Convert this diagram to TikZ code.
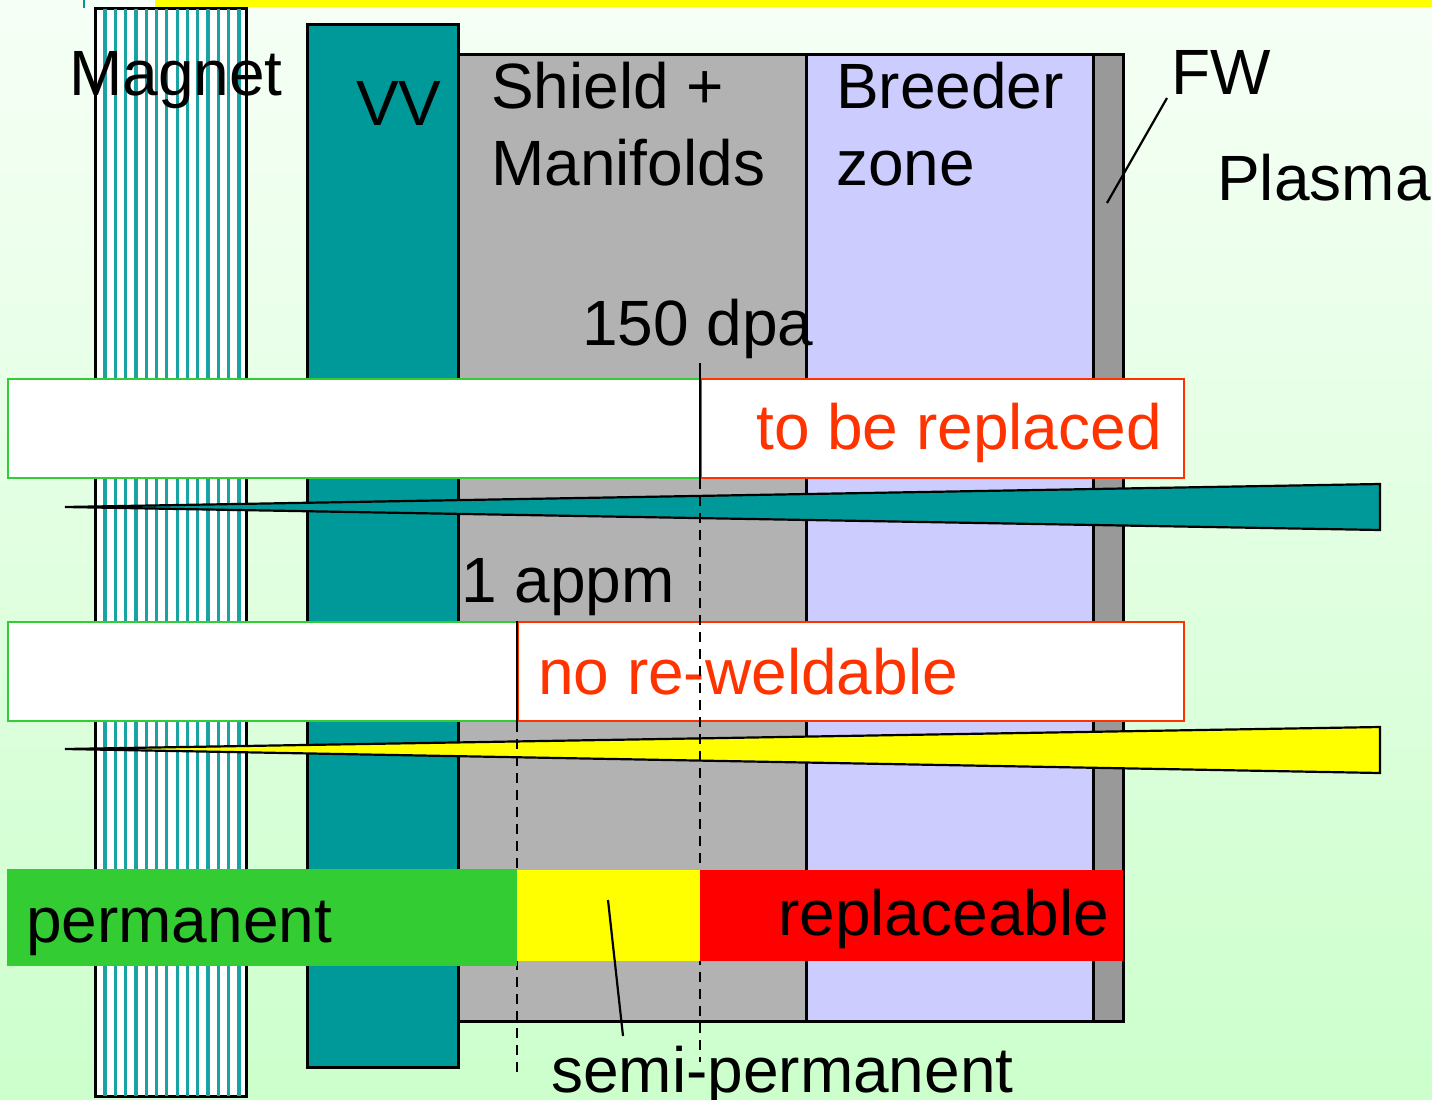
\documentclass[tikz,border=0pt]{standalone}
\usepackage{fontspec}
\setmainfont{Liberation Sans}
\usetikzlibrary{positioning, calc}
\definecolor{cBgTop}{HTML}{F6FFF6}
\definecolor{cBgBot}{HTML}{CCFFCC}
\definecolor{cVV}{HTML}{009999}
\definecolor{cShield}{HTML}{B2B2B2}
\definecolor{cBreeder}{HTML}{CCCCFF}
\definecolor{cFW}{HTML}{999999}
\definecolor{cPerm}{HTML}{33CC33}
\definecolor{cRepl}{HTML}{FF3300}
\definecolor{cSemi}{HTML}{FFFF00}
\definecolor{cRed}{HTML}{FF0000}
\tikzset{
  bigtext/.style={font=\fontsize{64}{77}\selectfont, inner sep=0pt, align=left,
    anchor=base west},
  layer/.style={draw=black, line width=2.8pt, anchor=north west, inner sep=0pt},
  stripe/.style={draw=cVV!90!white, line width=3.2pt},
  limitbox/.style={fill=white, line width=2.2pt, anchor=north west, inner sep=0pt,
    minimum height=99pt},
  okbox/.style={limitbox, draw=cPerm},
  badbox/.style={limitbox, draw=cRepl},
  wedge/.style={draw=black, line width=2.2pt, line join=miter},
  bar/.style={anchor=north west, inner sep=0pt},
  limitline/.style={draw=black, line width=2.5pt},
  limitdash/.style={limitline, dash pattern=on 10pt off 7pt},
  pointer/.style={draw=black, line width=2.2pt},
}

\begin{document}
\begin{tikzpicture}[x=1pt, y=-1pt]
  \useasboundingbox (0,0) rectangle (1432,1100);
  \shade[top color=cBgTop, bottom color=cBgBot] (0,0) rectangle (1432,1100);
  \fill[cSemi] (155,0) rectangle (1432,7);
  \draw[cVV, line width=1.5pt] (84,0) -- (84,8);

  % ----------------------------------------------------------------
  % radial build, magnet -> first wall
  % ----------------------------------------------------------------
  \node[layer, fill=white, minimum width=151pt, minimum height=1088pt] (magnet) at (94,7) {};
  \foreach \k in {0,...,13}
    \draw[stripe] ($(magnet.north west)+(11+10.3*\k,1.5)$) -- ($(magnet.south west)+(11+10.3*\k,-1.5)$);
  \node[layer, fill=cVV, minimum width=151pt, minimum height=1043pt] (vv) at (306,23) {};
  \node[layer, fill=cShield, minimum width=348pt, minimum height=967pt] (shield) at (457,53) {};
  \node[layer, fill=cBreeder, minimum width=287pt, minimum height=967pt] (breeder) at (805,53) {};
  \node[layer, fill=cFW, minimum width=30pt, minimum height=967pt] (fw) at (1092,53) {};

  \node[bigtext] (magnetlbl) at (69,95) {Magnet};
  \node[bigtext] (vvlbl) at (356,125) {VV};
  \node[bigtext] (shieldlbl) at (491,185) {Shield +\\Manifolds};
  \node[bigtext] (breederlbl) at (836,185) {Breeder\\zone};
  \node[bigtext] (fwlbl) at (1171,94) {FW};
  \node[bigtext] (plasmalbl) at (1217,200) {Plasma};

  \coordinate (fwtail) at (1167,98);
  \coordinate (fwtip) at (1107,203);
  \draw[pointer] (fwtail) -- (fwtip);

  % ----------------------------------------------------------------
  % damage limit: 150 dpa
  % ----------------------------------------------------------------
  \node[bigtext] (dpalbl) at (582,345) {150 dpa};
  \node[okbox, minimum width=693pt] (dpaok) at (7,378) {};
  \node[badbox, minimum width=483pt] (dpabad) at (700,378) {};
  \node[bigtext, text=cRepl] (dpatext) at (756,449) {to be replaced};
  \coordinate (dpatop) at (700,363);
  \coordinate (dpabot) at (700,1062);
  \draw[limitline] (dpatop) -- (dpabad.south west);
  \draw[wedge, fill=cVV] (65,507) -- (1380,484) -- (1380,530) -- cycle;

  % ----------------------------------------------------------------
  % helium limit: 1 appm
  % ----------------------------------------------------------------
  \node[bigtext] (appmlbl) at (461,602) {1 appm};
  \node[okbox, minimum width=510pt] (appmok) at (7,621) {};
  \node[badbox, minimum width=666pt] (appmbad) at (517,621) {};
  \node[bigtext, text=cRepl] (appmtext) at (538,694) {no re-weldable};
  \coordinate (appmbot) at (517,1077);
  \draw[limitline] (appmbad.north west) -- (appmbad.south west);
  \draw[wedge, fill=cSemi] (65,749) -- (1380,727) -- (1380,773) -- cycle;

  \draw[limitdash] (dpabad.south west) -- (dpabot);
  \draw[limitdash] (appmbad.south west) -- (appmbot);

  % ----------------------------------------------------------------
  % resulting classes
  % ----------------------------------------------------------------
  \node[bar, fill=cPerm, minimum width=510pt, minimum height=97pt] (perm) at (7,869) {};
  \node[bar, fill=cSemi, minimum width=183pt, minimum height=91pt] (semi) at (517,870) {};
  \node[bar, fill=cRed, minimum width=423pt, minimum height=91pt] (repl) at (700,870) {};
  \node[bigtext] (permlbl) at (26,942) {permanent};
  \node[bigtext] (repllbl) at (778,935) {replaceable};
  \node[bigtext] (semilbl) at (551,1092) {semi-permanent};

  \coordinate (semitail) at (608,900);
  \coordinate (semitip) at (623,1036);
  \draw[pointer] (semitail) -- (semitip);
\end{tikzpicture}
\end{document}
